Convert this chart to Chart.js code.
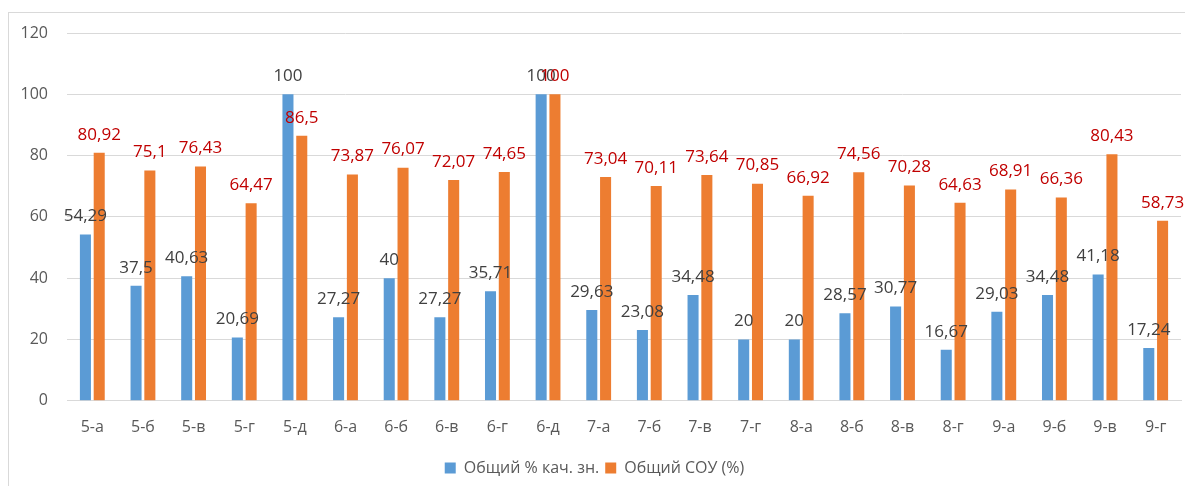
<!DOCTYPE html>
<html>
<head>
<meta charset="utf-8">
<script src="https://cdn.jsdelivr.net/npm/chart.js@4"></script>
<style>
  html, body { margin: 0; padding: 0; background: #fff; }
  #wrap { width: 1185px; height: 486px; }
</style>
</head>
<body>
<div id="wrap"><canvas id="graf" width="1185" height="486"></canvas></div>
<script>
// classes
const classes = ['5-а', '5-б', '5-в', '5-г', '5-д', '6-а', '6-б', '6-в', '6-г', '6-д', '7-а',
  '7-б', '7-в', '7-г', '8-а', '8-б', '8-в', '8-г', '9-а', '9-б', '9-в', '9-г'];

// Общий % кач. зн.
const kachestvo = [54.29, 37.5, 40.63, 20.69, 100, 27.27, 40, 27.27, 35.71, 100, 29.63,
  23.08, 34.48, 20, 20, 28.57, 30.77, 16.67, 29.03, 34.48, 41.18, 17.24];

// Общий СОУ (%)
const sou = [80.92, 75.1, 76.43, 64.47, 86.5, 73.87, 76.07, 72.07, 74.65, 100, 73.04,
  70.11, 73.64, 70.85, 66.92, 74.56, 70.28, 64.63, 68.91, 66.36, 80.43, 58.73];

const yTicks = [0, 20, 40, 60, 80, 100, 120];

const FONT = "'Open Sans', sans-serif";

// petit plugin pour les étiquettes au-dessus des barres
const etiquettes = {
  id: 'etiquettes',
  afterDatasetsDraw(chart) {
    const ctx = chart.ctx;
    ctx.save();
    ctx.font = '17px ' + FONT;
    ctx.textAlign = 'center';
    ctx.textBaseline = 'middle';
    chart.data.datasets.forEach((ds, i) => {
      const meta = chart.getDatasetMeta(i);
      ctx.fillStyle = ds.labelColor;
      meta.data.forEach((bar, j) => {
        const txt = String(ds.data[j]).replace('.', ',');
        ctx.fillText(txt, bar.x, bar.y - 18);
      });
    });
    ctx.restore();
  }
};

// cadre gris autour du graphique
const cadre = {
  id: 'cadre',
  beforeDraw(chart) {
    const ctx = chart.ctx;
    ctx.save();
    ctx.strokeStyle = '#D9D9D9';
    ctx.lineWidth = 1;
    ctx.strokeRect(8.5, 12.5, 1190, 500);
    ctx.restore();
  }
};

const ctx = document.getElementById('graf').getContext('2d');
const chart = new Chart(ctx, {
  type: 'bar',
  data: {
    labels: classes,
    datasets: [{
      label: 'Общий % кач. зн.',
      data: kachestvo,
      backgroundColor: '#5B9BD5',
      labelColor: '#404040',
      categoryPercentage: 0.545,
      barPercentage: 0.8
    }, {
      label: 'Общий СОУ (%)',
      data: sou,
      backgroundColor: '#ED7D31',
      labelColor: '#C00000',
      categoryPercentage: 0.545,
      barPercentage: 0.8
    }]
  },
  options: {
    responsive: false,
    animation: false,
    layout: { padding: { top: 33, right: 4, left: 8, bottom: 0 } },
    plugins: {
      legend: {
        position: 'bottom',
        labels: {
          font: { family: FONT, size: 16 },
          color: '#595959',
          boxWidth: 11,
          boxHeight: 11,
          padding: 6
        }
      },
      tooltip: { enabled: false }
    },
    scales: {
      x: {
        grid: { display: false, drawTicks: false },
        border: { color: '#D9D9D9' },
        ticks: { font: { family: FONT, size: 16 }, color: '#595959', padding: 17, maxRotation: 0 }
      },
      y: {
        min: 0,
        max: 120,
        afterBuildTicks: s => { s.ticks = yTicks.map(v => ({ value: v })); },
        afterFit: s => { s.width = 59; },
        grid: { color: '#D9D9D9', drawTicks: false },
        border: { display: false },
        ticks: { font: { family: FONT, size: 16 }, color: '#595959', padding: 19 }
      }
    }
  },
  plugins: [etiquettes, cadre]
});
</script>
</body>
</html>
